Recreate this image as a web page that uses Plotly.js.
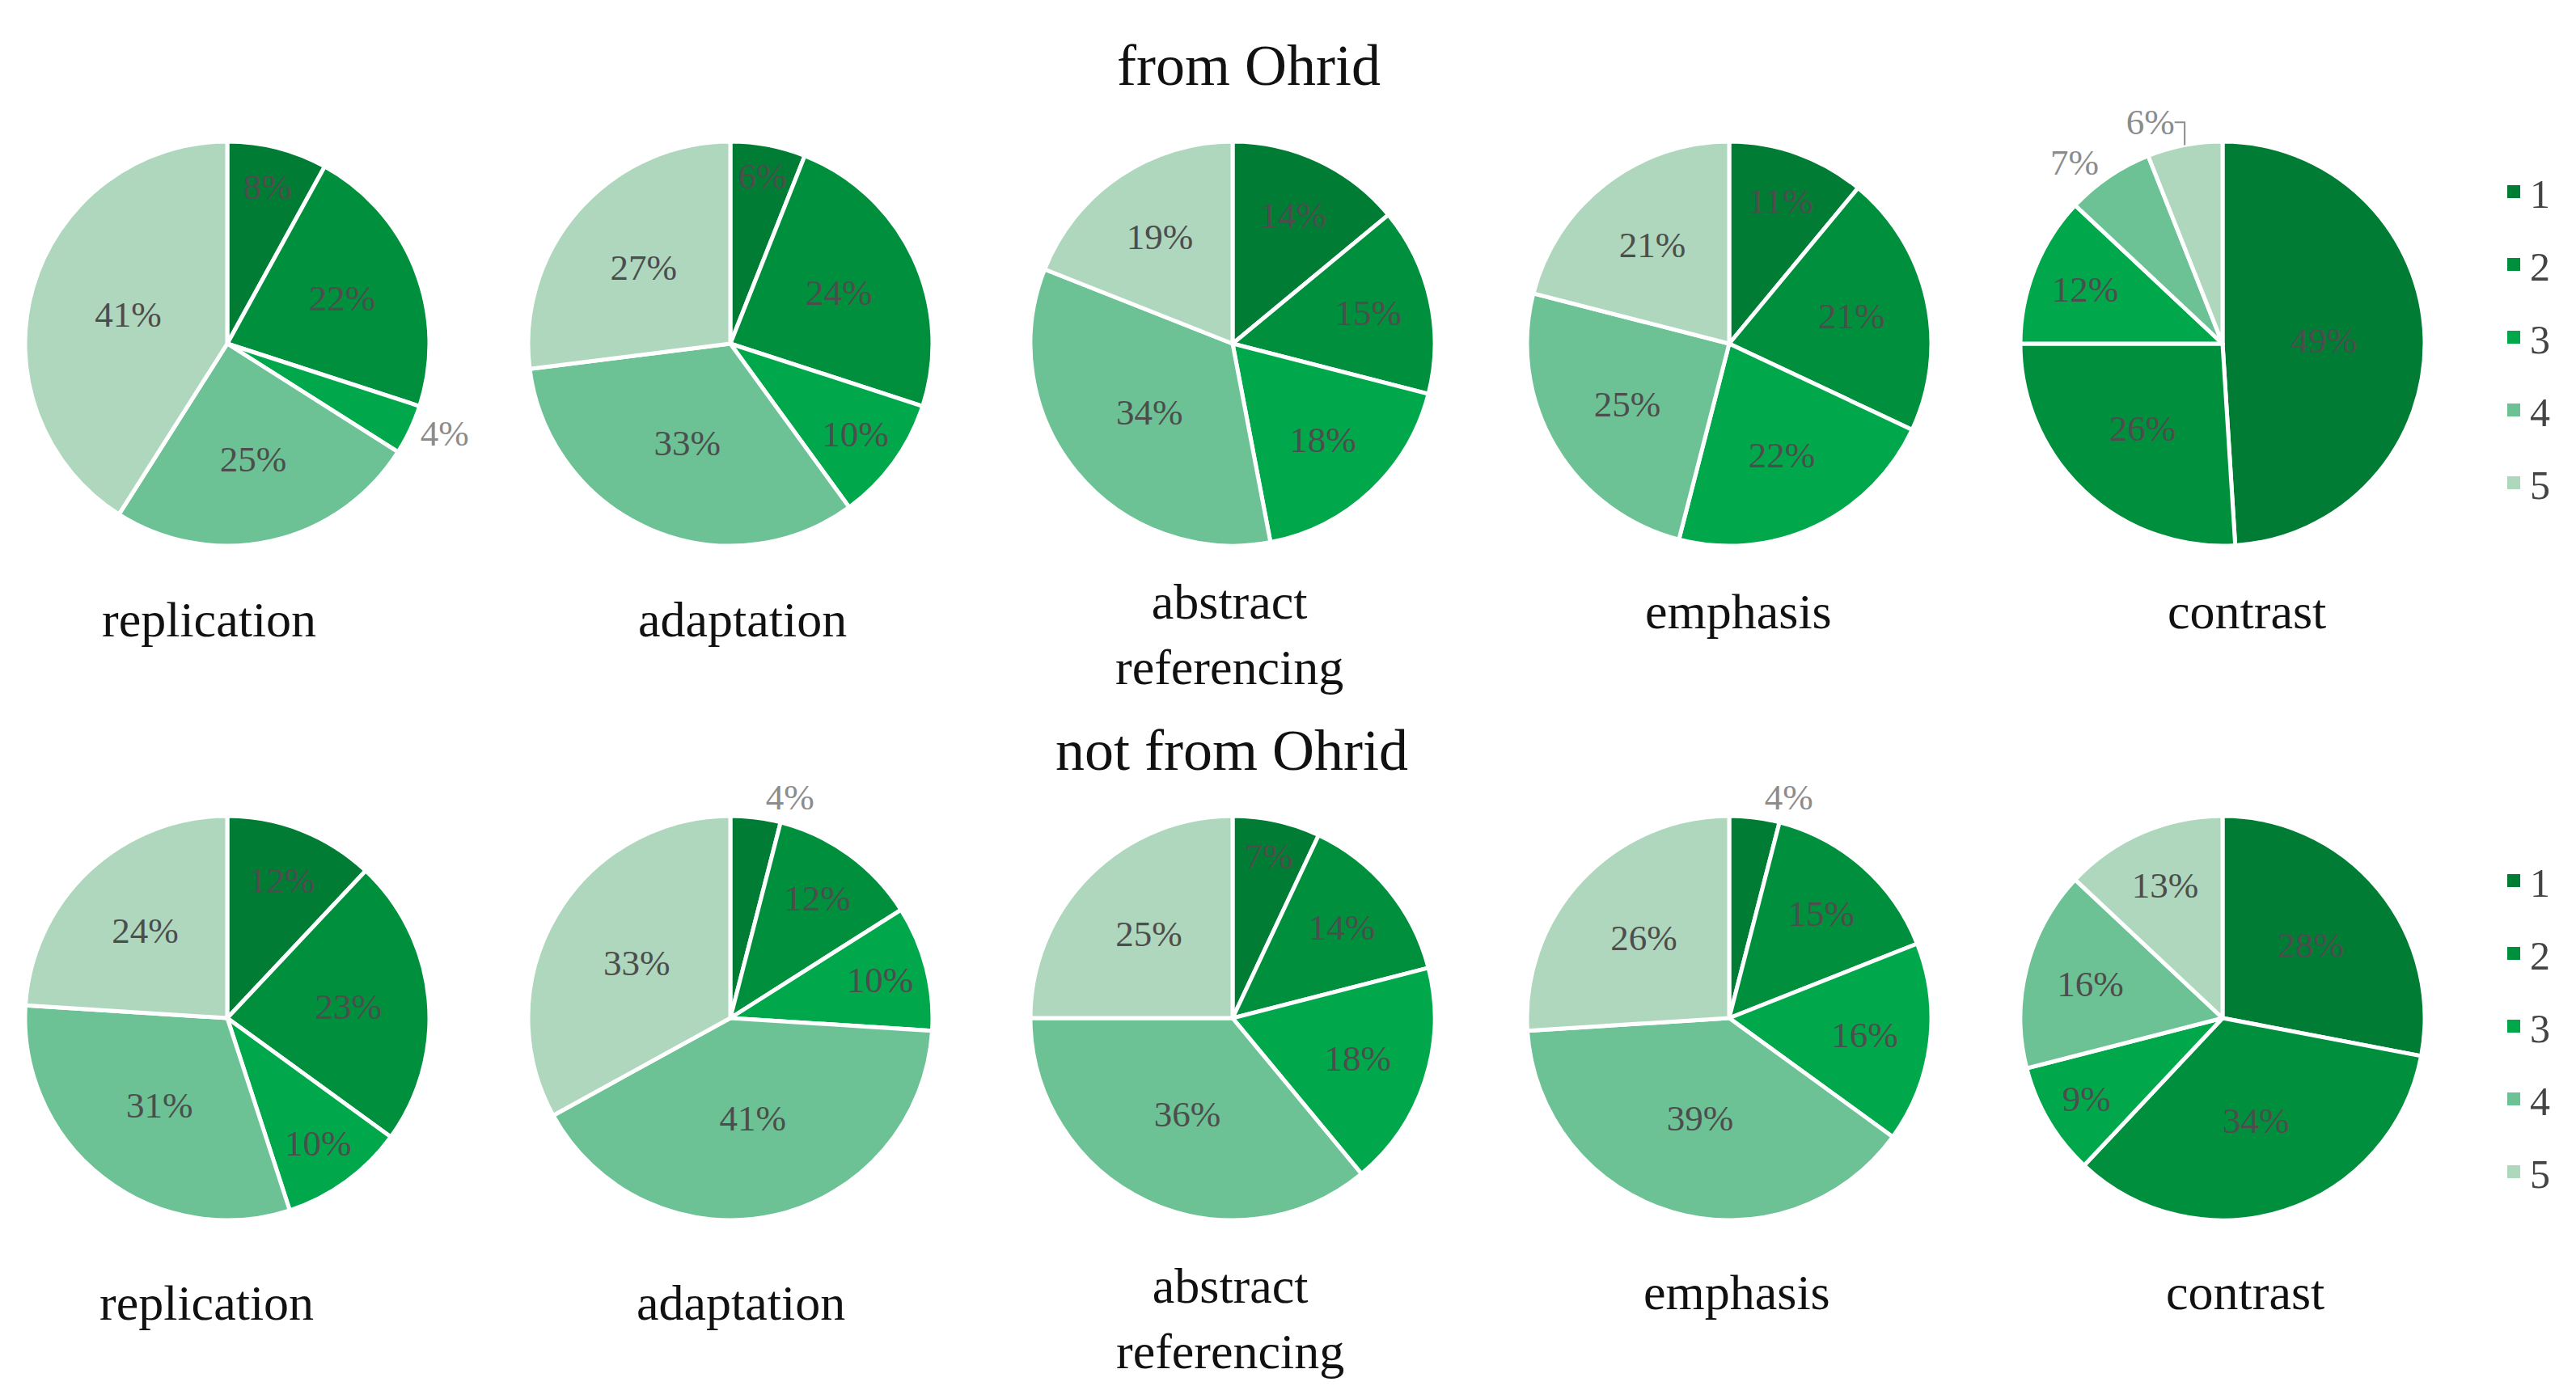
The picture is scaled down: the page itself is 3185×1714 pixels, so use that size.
<!DOCTYPE html>
<html>
<head>
<meta charset="utf-8">
<script src="https://cdn.plot.ly/plotly-3.0.1.min.js"></script>
<style>html,body{margin:0;padding:0;background:#fff;}#chart{width:3185px;height:1714px;}</style>
</head>
<body>
<div id="chart"></div>
<script>
// ---- data ----
const categories = ["replication", "adaptation", "abstract<br>referencing", "emphasis", "contrast"];
const scaleLabels = ["1", "2", "3", "4", "5"];
const groupTitles = ["from Ohrid", "not from Ohrid"];
const fromOhridReplication = [8, 22, 4, 25, 41];
const fromOhridAdaptation  = [6, 24, 10, 33, 27];
const fromOhridAbstract    = [14, 15, 18, 34, 19];
const fromOhridEmphasis    = [11, 21, 22, 25, 21];
const fromOhridContrast    = [49, 26, 12, 7, 6];
const notOhridReplication  = [12, 23, 10, 31, 24];
const notOhridAdaptation   = [4, 12, 10, 41, 33];
const notOhridAbstract     = [7, 14, 18, 36, 25];
const notOhridEmphasis     = [4, 15, 16, 39, 26];
const notOhridContrast     = [28, 34, 9, 16, 13];

// ---- styling / layout ----
const W = 3185, H = 1714;
const colors = ["#007c34", "#008f3c", "#00a84b", "#6cc294", "#aed7bd"];
const FONT = "'Palatino Linotype', 'Book Antiqua', Palatino, 'Liberation Serif', 'DejaVu Serif', serif";
const rows = [
  {values: [fromOhridReplication, fromOhridAdaptation, fromOhridAbstract, fromOhridEmphasis, fromOhridContrast],
   cy: 425, legend: "legend",
   pos: [["inside","inside","outside","inside","inside"],
         ["inside","inside","inside","inside","inside"],
         ["inside","inside","inside","inside","inside"],
         ["inside","inside","inside","inside","inside"],
         ["inside","inside","inside","outside","outside"]]},
  {values: [notOhridReplication, notOhridAdaptation, notOhridAbstract, notOhridEmphasis, notOhridContrast],
   cy: 1259, legend: "legend2",
   pos: [["inside","inside","inside","inside","inside"],
         ["outside","inside","inside","inside","inside"],
         ["inside","inside","inside","inside","inside"],
         ["outside","inside","inside","inside","inside"],
         ["inside","inside","inside","inside","inside"]]}
];
const cxs = [281, 903, 1524, 2138, 2748];
const R = 250;
const labelX = [[258, 918, 1520, 2149, 2778], [255, 916, 1521, 2147, 2776]];
const labelY = [[766, 766, 785, 756, 756], [1611, 1611, 1630, 1598, 1598]];
const titleXY = [[1544, 81], [1523, 928]];

const data = [];
rows.forEach((row, ri) => {
  row.values.forEach((vals, ci) => {
    const cx = cxs[ci], cy = row.cy;
    data.push({
      type: "pie",
      labels: scaleLabels,
      values: vals,
      sort: false,
      direction: "clockwise",
      rotation: 0,
      hole: 0,
      showlegend: false,
      marker: {colors: colors, line: {color: "#ffffff", width: 5}},
      textinfo: "percent",
      texttemplate: "%{value}%",
      textposition: row.pos[ci],
      insidetextorientation: "horizontal",
      insidetextfont: {family: FONT, size: 45, color: "#4d4d4d"},
      outsidetextfont: {family: FONT, size: 45, color: "#8c8c8c"},
      domain: {x: [(cx - R) / W, (cx + R) / W], y: [1 - (cy + R) / H, 1 - (cy - R) / H]},
      hoverinfo: "label+percent"
    });
  });
  // legend entries for the scale (no data points drawn)
  scaleLabels.forEach((lab, k) => {
    data.push({
      type: "scatter", mode: "markers", x: [null], y: [null],
      name: lab, legend: row.legend, legendgroup: row.legend + lab,
      marker: {symbol: "square", size: 16, color: colors[k]},
      showlegend: true, hoverinfo: "skip"
    });
  });
});

const annotations = [];
groupTitles.forEach((t, i) => {
  annotations.push({text: t, x: titleXY[i][0] / W, y: 1 - titleXY[i][1] / H, xref: "paper", yref: "paper",
    showarrow: false, xanchor: "center", yanchor: "middle", font: {family: FONT, size: 72, color: "#111111"}});
});
[0, 1].forEach(ri => {
  categories.forEach((c, ci) => {
    annotations.push({text: c, x: labelX[ri][ci] / W, y: 1 - labelY[ri][ci] / H, xref: "paper", yref: "paper",
      showarrow: false, xanchor: "center", yanchor: "middle", font: {family: FONT, size: 62, color: "#111111"}});
  });
});

const legendStyle = {font: {family: FONT, size: 50, color: "#444444"}, bgcolor: "rgba(0,0,0,0)",
  xanchor: "left", yanchor: "top", orientation: "v", itemclick: false, traceorder: "grouped",
  tracegroupgap: 22, itemwidth: 30};
const layout = {
  width: W, height: H,
  margin: {l: 0, r: 0, t: 0, b: 0},
  paper_bgcolor: "#ffffff",
  plot_bgcolor: "#ffffff",
  xaxis: {visible: false},
  yaxis: {visible: false},
  annotations: annotations,
  legend: Object.assign({}, legendStyle, {x: 3088 / W, y: 1 - 198 / H}),
  legend2: Object.assign({}, legendStyle, {x: 3088 / W, y: 1 - 1050 / H})
};
Plotly.newPlot("chart", data, layout, {displayModeBar: false, staticPlot: true});
</script>
</body>
</html>
